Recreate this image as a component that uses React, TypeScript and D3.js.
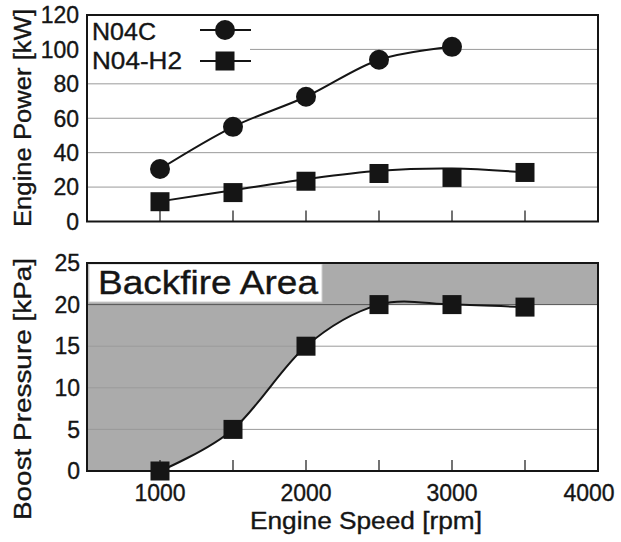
import React from "react";
import * as d3 from "d3";

const speeds = [1000, 1500, 2000, 2500, 3000, 3500];
const powerN04C = [30.5, 55, 72.5, 94, 101.5];
const powerH2 = [11.5, 16.8, 23.4, 27.9, 25.6, 28.5];
const powerH2Curve = [11.7, 18.2, 24.6, 29.5, 30.8, 28.5];
const boostH2 = [0, 5, 15, 20, 20, 19.7];
const topTicks = [0, 20, 40, 60, 80, 100, 120];
const botTicks = [0, 5, 10, 15, 20, 25];
const xLabels = [1000, 2000, 3000, 4000];
const xMinor = [1000, 1500, 2000, 2500, 3000, 3500];
const backfireLimit = 20;

const W = 621, H = 542;
const FONT = "'Liberation Sans', Arial, sans-serif";

export default function App() {
  const x = d3.scaleLinear().domain([500, 4000]).range([87, 598]);
  const yT = d3.scaleLinear().domain([0, 120]).range([221.5, 15]);
  const yB = d3.scaleLinear().domain([0, 25]).range([471, 263]);
  const curve = d3.curveCardinal.tension(0);

  const lineT = d3.line<[number, number]>().x(d => x(d[0])).y(d => yT(d[1])).curve(curve);
  const lineB = d3.line<[number, number]>().x(d => x(d[0])).y(d => yB(d[1])).curve(curve);
  const areaB = d3.area<[number, number]>().x(d => x(d[0])).y0(yB(0)).y1(d => yB(d[1])).curve(curve);

  const n04c = powerN04C.map((v, i) => [speeds[i], v] as [number, number]);
  const h2 = powerH2.map((v, i) => [speeds[i], v] as [number, number]);
  const h2c = powerH2Curve.map((v, i) => [speeds[i], v] as [number, number]);
  const boost = boostH2.map((v, i) => [speeds[i], v] as [number, number]);

  const [x0, x1] = x.range();
  const sq = 19;
  const ink = "#151515";
  const grid = "#9a9a9a";
  const shade = "#ababab";
  const txt = { fill: ink, stroke: ink, strokeWidth: 0.35 };

  return (
    <svg width={W} height={H} style={{ position: "absolute", left: 0, top: 0, background: "#fff" }} fontFamily={FONT}>
      <defs>
        <clipPath id="under">
          <rect x={x(1000)} y={yB(25)} width={x(2500) - x(1000) + 0.6} height={yB(0) - yB(25)} />
        </clipPath>
      </defs>

      {/* ---------- top panel ---------- */}
      {topTicks.filter(t => t > 0 && t < 120).map(t => (
        <line key={"gt" + t} x1={x0} x2={x1} y1={yT(t)} y2={yT(t)} stroke={grid} strokeWidth={1} />
      ))}
      {xMinor.map(s => (
        <line key={"tt" + s} x1={x(s)} x2={x(s)} y1={yT(0)} y2={yT(0) - 11} stroke={ink} strokeWidth={1.2} />
      ))}
      <rect x={x0 + 1} y={yT(120) + 1} width={162} height={46} fill="#fff" />
      <path d={lineT(n04c) || ""} fill="none" stroke={ink} strokeWidth={2} />
      <path d={lineT(h2c) || ""} fill="none" stroke={ink} strokeWidth={2} />
      {n04c.map(d => <circle key={"c" + d[0]} cx={x(d[0])} cy={yT(d[1])} r={10} fill={ink} />)}
      {h2.map(d => <rect key={"s" + d[0]} x={x(d[0]) - sq / 2} y={yT(d[1]) - sq / 2} width={sq} height={sq} fill={ink} />)}
      <rect x={x0} y={yT(120)} width={x1 - x0} height={yT(0) - yT(120)} fill="none" stroke={ink} strokeWidth={2} />
      <text x={92} y={40} fontSize={24} textLength={64} lengthAdjust="spacingAndGlyphs" {...txt}>N04C</text>
      <line x1={200} x2={251} y1={30} y2={30} stroke={ink} strokeWidth={2} />
      <circle cx={225} cy={30} r={10} fill={ink} />
      <text x={92} y={69} fontSize={24} textLength={90} lengthAdjust="spacingAndGlyphs" {...txt}>N04-H2</text>
      <line x1={200} x2={251} y1={61} y2={61} stroke={ink} strokeWidth={2} />
      <rect x={225 - sq / 2} y={61 - sq / 2} width={sq} height={sq} fill={ink} />
      {topTicks.map(t => (
        <text key={"lt" + t} x={79} y={yT(t)} dy="0.36em" textAnchor="end" fontSize={23} {...txt}>{t}</text>
      ))}
      <text transform={`translate(31,118) rotate(-90)`} textAnchor="middle" fontSize={23} textLength={218} lengthAdjust="spacingAndGlyphs" {...txt}>Engine Power [kW]</text>

      {/* ---------- bottom panel ---------- */}
      <rect x={x0} y={yB(25)} width={x1 - x0} height={yB(0) - yB(25)} fill={shade} />
      <path d={areaB(boost) || ""} fill="#fff" clipPath="url(#under)" />
      <rect x={x(2500) - 0.6} y={yB(backfireLimit)} width={x1 - x(2500) + 0.6} height={yB(0) - yB(backfireLimit)} fill="#fff" />
      {botTicks.filter(t => t > 0 && t < 25).map(t => (
        <line key={"gb" + t} x1={x0} x2={x1} y1={yB(t)} y2={yB(t)} stroke={t === 20 ? "#555" : grid} strokeWidth={1} />
      ))}
      {xMinor.map(s => (
        <line key={"tb" + s} x1={x(s)} x2={x(s)} y1={yB(0)} y2={yB(0) - 11} stroke={ink} strokeWidth={1.2} />
      ))}
      <rect x={x0 + 2} y={yB(25) + 1} width={233} height={38} fill="#fff" stroke="#cfcfcf" strokeWidth={1} />
      <text x={98} y={294} fontSize={33} textLength={220} lengthAdjust="spacingAndGlyphs" {...txt}>Backfire Area</text>
      <path d={lineB(boost) || ""} fill="none" stroke={ink} strokeWidth={2} />
      {boost.map(d => <rect key={"b" + d[0]} x={x(d[0]) - sq / 2} y={yB(d[1]) - sq / 2} width={sq} height={sq} fill={ink} />)}
      <rect x={x0} y={yB(25)} width={x1 - x0} height={yB(0) - yB(25)} fill="none" stroke={ink} strokeWidth={2} />
      {botTicks.map(t => (
        <text key={"lb" + t} x={80} y={yB(t)} dy="0.36em" textAnchor="end" fontSize={23} {...txt}>{t}</text>
      ))}
      {xLabels.map(s => (
        <text key={"xl" + s} x={Math.min(x(s), 589)} y={493} dy="0.36em" textAnchor="middle" fontSize={23} {...txt}>{s}</text>
      ))}
      <text x={366} y={529} textAnchor="middle" fontSize={23} textLength={232} lengthAdjust="spacingAndGlyphs" {...txt}>Engine Speed [rpm]</text>
      <text transform={`translate(31,389) rotate(-90)`} textAnchor="middle" fontSize={23} textLength={262} lengthAdjust="spacingAndGlyphs" {...txt}>Boost Pressure [kPa]</text>
    </svg>
  );
}
